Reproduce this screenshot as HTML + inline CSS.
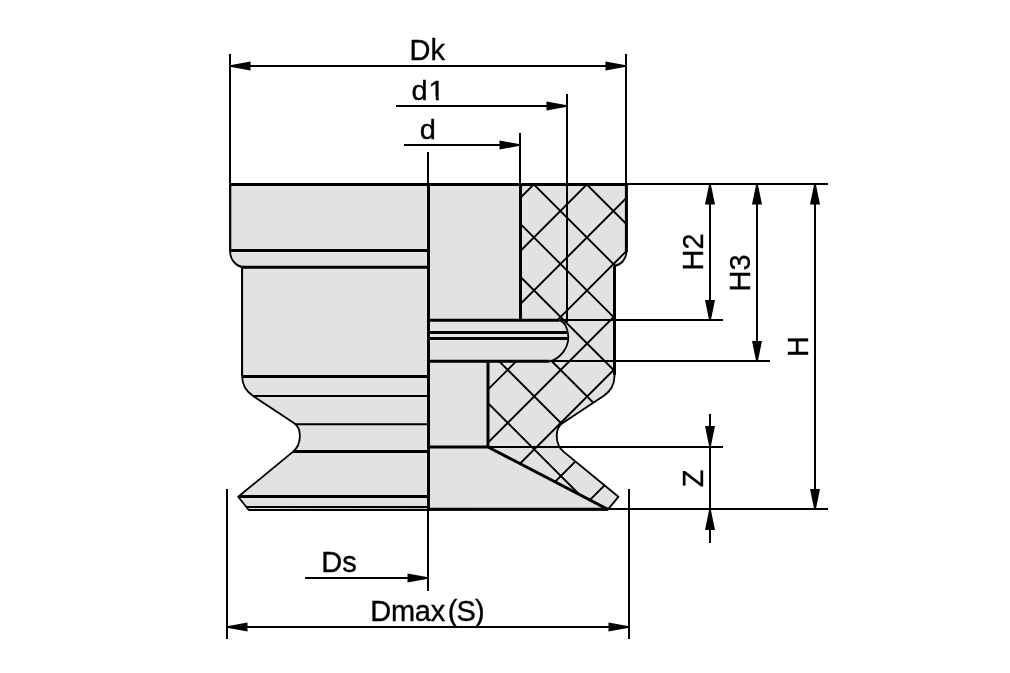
<!DOCTYPE html>
<html><head><meta charset="utf-8">
<style>
html,body{margin:0;padding:0;background:#fff;}
body{width:1010px;height:673px;overflow:hidden;}
svg{display:block;will-change:transform;}
text{font-family:"Liberation Sans",sans-serif;font-size:29px;fill:#000;stroke:#000;stroke-width:0.35px;}
</style></head><body>
<svg width="1010" height="673" viewBox="0 0 1010 673">
<rect width="1010" height="673" fill="#fff"/>
<defs><clipPath id="sec"><path d="M520.5,184.5 L626.4,184.5 L626.4,252 A14.5,14.5 0 0 1 614.5,266 L614.5,376 Q614.5,388.5 603.5,396 L562,423.6 C555,428.6 554.5,444 563.5,451.6 L618.4,496.8 L607.8,509.5 L488,447 L488,361.3 L549.6,361.3 C560,359 568.6,348 568.3,336.9 C568,329 565,322 559.7,320.3 L520.5,320.3 Z"/></clipPath></defs>
<path d="M428.3,184.5 L626.4,184.5 L626.4,252 A14.5,14.5 0 0 1 614.5,266 L614.5,376 Q614.5,388.5 603.5,396 L562,423.6 C555,428.6 554.5,444 563.5,451.6 L618.4,496.8 L607.8,509.5 L248.8,510 L238.2,496.8 L293.1,451.6 C302.1,444 301.6,428.6 294.6,423.6 L253.1,396 Q242.1,388.5 242.1,376 L242.1,267 A15.3,15.3 0 0 1 230.2,252 L230.2,184.5 Z" fill="#e2e2e2"/>
<g clip-path="url(#sec)"><path d="M568.2,150 L158.2,560 M621.3,150 L211.3,560 M674.4,150 L264.4,560 M727.5,150 L317.5,560 M780.6,150 L370.6,560 M833.7,150 L423.7,560 M886.8,150 L476.8,560 M939.9,150 L529.9,560 M552.3,150 L962.3,560 M499.4,150 L909.4,560 M446.5,150 L856.5,560 M393.6,150 L803.6,560 M340.7,150 L750.7,560 M287.8,150 L697.8,560 M234.9,150 L644.9,560" stroke="#000" stroke-width="1.9" fill="none"/></g>
<path d="M230,54 V184 M626,54 V184 M230,66 H626 M567,94 V322 M396,106 H567 M520,133 V184 M404,145 H520 M428,152 V591 M627,184 H828 M560,320 H723 M550,361 H770 M488,447 H723 M608,509 H828 M710,184 V320 M757,184 V361 M815,184 V509 M710,414 V543 M305,578 H428 M227,489 V639 M629,489 V639 M227,627 H629" stroke="#000" stroke-width="2" fill="none" shape-rendering="crispEdges"/>
<path d="M248.8,510 H428.5" stroke="#000" stroke-width="2" fill="none"/><path d="M246.1,507 H428.5" stroke="#000" stroke-width="1.8" fill="none"/>
<path d="M428.3,184.5 L626.4,184.5 L626.4,252 A14.5,14.5 0 0 1 614.5,266 L614.5,376 Q614.5,388.5 603.5,396 L562,423.6 C555,428.6 554.5,444 563.5,451.6 L618.4,496.8 L607.8,509.5 L248.8,510 L238.2,496.8 L293.1,451.6 C302.1,444 301.6,428.6 294.6,423.6 L253.1,396 Q242.1,388.5 242.1,376 L242.1,267 A15.3,15.3 0 0 1 230.2,252 L230.2,184.5 Z" stroke="#000" stroke-width="1.8" fill="none" stroke-linejoin="round"/>
<path d="M230.2,184 V252 M242.1,267 V376" stroke="#000" stroke-width="2" fill="none"/>
<path d="M559.7,320.3 C565,322 568,329 568.3,336.9 C568.6,348 560,359 549.6,361.3" stroke="#000" stroke-width="1.8" fill="none"/>
<path d="M253.1,396.1 H428.5 M294.6,424.2 H428.5" stroke="#000" stroke-width="2" fill="none"/>
<path d="M229.2,184.5 H627.9 M428.5,184 V511 M520.5,184 V320.3 M428.5,320.3 H559.7 M428.5,332.5 H568 M428.5,338.4 H568 M428.5,361.3 H549.6 M488,361.3 V447 M428.5,446.9 H488 M488,447 L607.8,509.3 M428.5,509.3 H608.3 M614.5,266.5 V375 M626.4,184 V252 M230.2,250.4 H428.5 M242.1,267.3 H428.5 M242.1,376.4 H428.5 M239.4,496.5 H428.5 M293.1,451.4 H428.5" stroke="#000" stroke-width="3" fill="none"/>
<path d="M230,65.2 L250.5,61.5 L250.5,70.5 L230,66.8 Z M626,65.2 L605.5,61.5 L605.5,70.5 L626,66.8 Z M567,105.2 L546.5,101.5 L546.5,110.5 L567,106.8 Z M520,144.2 L499.5,140.5 L499.5,149.5 L520,145.8 Z M709.2,184 L705.0,204.5 L715.0,204.5 L710.8,184 Z M709.2,320.5 L705.0,300.0 L715.0,300.0 L710.8,320.5 Z M756.2,184 L752.0,204.5 L762.0,204.5 L757.8,184 Z M756.2,361.5 L752.0,341.0 L762.0,341.0 L757.8,361.5 Z M814.2,184 L810.0,204.5 L820.0,204.5 L815.8,184 Z M814.2,509.5 L810.0,489.0 L820.0,489.0 L815.8,509.5 Z M709.2,446.5 L705.0,426.0 L715.0,426.0 L710.8,446.5 Z M709.2,509.5 L705.0,530.0 L715.0,530.0 L710.8,509.5 Z M428,577.2 L407.5,573.5 L407.5,582.5 L428,578.8 Z M227,626.2 L247.5,622.5 L247.5,631.5 L227,627.8 Z M629,626.2 L608.5,622.5 L608.5,631.5 L629,627.8 Z" fill="#000"/>
<g transform="translate(409.6,59.9) scale(1,1.02)"><text>Dk</text></g>
<g transform="translate(411.6,99.9) scale(1,0.955)"><text>d<tspan dx="0.8">1</tspan></text></g>
<path d="M428,96.6 H435.75 V101.5 H428 Z M438.85,96.6 H445 V101.5 H438.85 Z" fill="#fff"/>
<g transform="translate(419.8,138.6) scale(1,0.955)"><text>d</text></g>
<g transform="translate(321.2,571.6) scale(1,1.04)"><text>Ds</text></g>
<g transform="translate(370.2,620.5) scale(1,1.04)"><text><tspan style="letter-spacing:-0.25px">Dmax</tspan><tspan dx="2.8" style="letter-spacing:-0.9px">(S)</tspan></text></g>
<g transform="translate(702.8,252) rotate(-90) scale(1,1.04)"><text text-anchor="middle">H2</text></g>
<g transform="translate(750.1,273) rotate(-90) scale(1,1.04)"><text text-anchor="middle">H3</text></g>
<g transform="translate(807.9,346.4) rotate(-90) scale(1,1.04)"><text text-anchor="middle">H</text></g>
<g transform="translate(703.4,478.3) rotate(-90) scale(1,1.04)"><text text-anchor="middle">Z</text></g>
</svg>
</body></html>
